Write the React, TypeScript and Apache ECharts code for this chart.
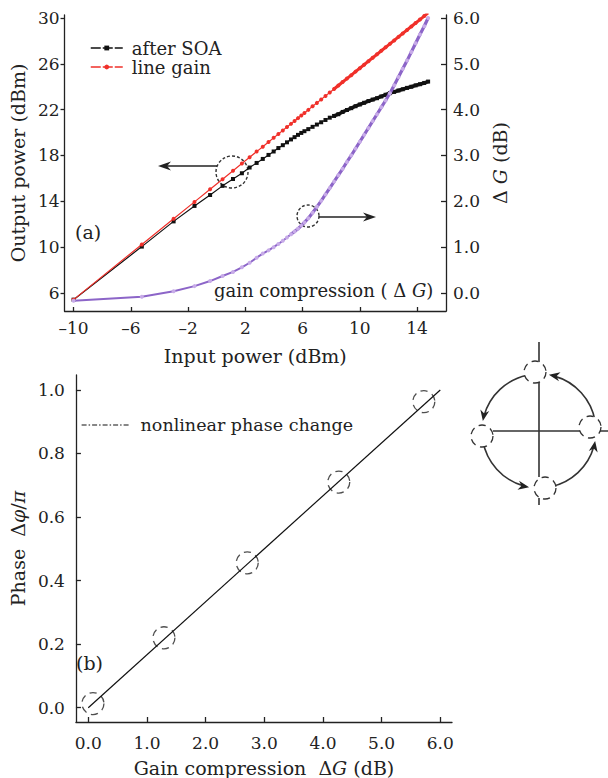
import React, { useEffect, useRef } from "react";
import * as echarts from "echarts";

const FONT = "'DejaVu Serif', 'Liberation Serif', serif";
const INK = "#222";

// ---- Panel (a) data ----
const inputPower = [
  -10, -5.23, -3.01, -1.55, -0.46, 0.41, 1.14, 1.76, 2.3, 2.79,
  3.22, 3.62, 3.98, 4.31, 4.62, 4.91, 5.19, 5.44, 5.68, 5.91,
  6.13,
  6.4, 6.7, 7.0, 7.3, 7.6, 7.9, 8.2, 8.5, 8.8, 9.1,
  9.4, 9.7, 10.0, 10.3, 10.6, 10.9, 11.2, 11.5, 11.8, 12.1,
  12.4, 12.7, 13.0, 13.3, 13.6, 13.9, 14.2, 14.5,
  14.77,
];
const afterSOA = [
  5.42, 10.05, 12.25, 13.6, 14.55, 15.35, 15.95, 16.45, 16.95, 17.35,
  17.7, 18.05, 18.35, 18.65, 18.9, 19.15, 19.4, 19.6, 19.8, 19.97,
  20.12,
  20.3, 20.5, 20.7, 20.9, 21.1, 21.3, 21.45, 21.6, 21.8, 21.97,
  22.13, 22.3, 22.45, 22.6, 22.75, 22.88, 23.0, 23.15, 23.3, 23.44,
  23.55, 23.67, 23.78, 23.9, 24.0, 24.12, 24.22, 24.33,
  24.45,
];
const lineGain = [
  5.42, 10.24, 12.48, 13.95, 15.05, 15.93, 16.67, 17.3, 17.84, 18.34,
  18.77, 19.18, 19.54, 19.87, 20.19, 20.48, 20.76, 21.01, 21.26, 21.49,
  21.71,
  21.98, 22.29, 22.59, 22.89, 23.2, 23.5, 23.8, 24.11, 24.41, 24.71,
  25.01, 25.32, 25.62, 25.92, 26.23, 26.53, 26.83, 27.14, 27.44, 27.74,
  28.04, 28.35, 28.65, 28.95, 29.26, 29.56, 29.86, 30.17,
  30.44,
];
const gainCompression = [
  -0.17, -0.08, 0.04, 0.15, 0.26, 0.37, 0.46, 0.56, 0.66, 0.77,
  0.86, 0.93, 1.0, 1.07, 1.14, 1.21, 1.28, 1.34, 1.4, 1.47,
  1.54,
  1.63, 1.75, 1.88, 2.01, 2.15, 2.29, 2.43, 2.57, 2.71, 2.86,
  3.0, 3.15, 3.3, 3.45, 3.6, 3.75, 3.9, 4.05, 4.2, 4.36,
  4.53, 4.71, 4.89, 5.07, 5.26, 5.45, 5.64, 5.82,
  6.0,
];
const topXTicks = [-10, -6, -2, 2, 6, 10, 14];
const leftYTicks = [6, 10, 14, 18, 22, 26, 30];
const rightYTicks = [0, 1, 2, 3, 4, 5, 6];

// ---- Panel (b) data ----
const phaseLineX = [0, 6.0];
const phaseLineY = [0, 1.0];
const phasePointX = [0.08, 1.29, 2.71, 4.27, 5.72];
const phasePointY = [0.013, 0.22, 0.456, 0.71, 0.963];
const bottomXTicks = [0, 1, 2, 3, 4, 5, 6];
const bottomYTicks = [0, 0.2, 0.4, 0.6, 0.8, 1.0];

const zip = (xs: number[], ys: number[]) => xs.map((x, i) => [x, ys[i]]);
const DENSE_FROM = 27; // where the measured points become densely packed
const PURPLE_DENSE_FROM = 16;

function head(tx: number, ty: number, dx: number, dy: number, len = 11, w = 4.5) {
  const L = Math.hypot(dx, dy);
  const ux = dx / L, uy = dy / L;
  const px = -uy, py = ux;
  const bx = tx - ux * len, by = ty - uy * len;
  return {
    type: "polygon",
    shape: {
      points: [
        [tx, ty],
        [bx + px * w, by + py * w],
        [tx - ux * len * 0.7, ty - uy * len * 0.7],
        [bx - px * w, by - py * w],
      ],
    },
    style: { fill: INK },
  };
}

function buildInset() {
  const cx = 539, cy = 431, R = 57;
  const els: any[] = [];
  els.push({ type: "line", shape: { x1: cx, y1: 342, x2: cx, y2: 477 }, style: { stroke: "#333", lineWidth: 1.6 } });
  els.push({ type: "line", shape: { x1: cx, y1: 498, x2: cx, y2: 505 }, style: { stroke: "#333", lineWidth: 1.6 } });
  els.push({ type: "line", shape: { x1: 493, y1: cy, x2: 608, y2: cy }, style: { stroke: "#333", lineWidth: 1.6 } });
  const arcs = [
    [190, 258],
    [100, 170],
    [10, 78],
    [280, 350],
  ];
  arcs.forEach(([s, e]) => {
    const sr = (s * Math.PI) / 180, er = (e * Math.PI) / 180;
    els.push({
      type: "arc",
      shape: { cx, cy, r: R, startAngle: sr + 0.1, endAngle: er, clockwise: true },
      style: { stroke: "#333", lineWidth: 1.6, fill: "none" },
    });
    const tx = cx + R * Math.cos(sr), ty = cy + R * Math.sin(sr);
    els.push(head(tx, ty, Math.sin(sr), -Math.cos(sr), 11, 4.5));
  });
  const smalls = [
    [535, 372],
    [482, 436],
    [545, 488],
    [590, 427],
  ];
  smalls.forEach(([x, y]) => {
    els.push({
      type: "circle",
      shape: { cx: x, cy: y, r: 11 },
      style: { fill: "#fff", stroke: "#333", lineWidth: 1.3, lineDash: [7, 5] },
    });
  });
  return els;
}

const labelStyle = { color: INK, fontFamily: FONT, fontSize: 17 };
const nameStyle = { color: INK, fontFamily: FONT, fontSize: 19 };
const axisLine = { show: true, onZero: false, lineStyle: { color: INK, width: 1.3 } };
const tickStyle = { color: INK, width: 1.3 };
const dashMinus = (v: number) => String(v).replace("-", "–");

export default function App() {
  const ref = useRef<HTMLDivElement>(null);
  useEffect(() => {
    const chart = echarts.init(ref.current!, null, { renderer: "svg" });
    const option: any = {
      animation: false,
      backgroundColor: "#fff",
      grid: [
        { left: 63, top: 15, width: 383, height: 296 },
        { left: 64, top: 375, width: 388, height: 349 },
      ],
      xAxis: [
        {
          gridIndex: 0,
          type: "value",
          min: -10.63,
          max: 16.02,
          axisLine,
          axisTick: { show: true, inside: true, length: 4, lineStyle: tickStyle, customValues: topXTicks },
          axisLabel: { ...labelStyle, margin: 8, customValues: topXTicks, formatter: dashMinus },
          splitLine: { show: false },
          name: "Input power (dBm)",
          nameLocation: "middle",
          nameGap: 35,
          nameTextStyle: nameStyle,
        },
        {
          gridIndex: 1,
          type: "value",
          min: -0.21,
          max: 6.2,
          axisLine,
          axisTick: { show: true, inside: true, length: 5, lineStyle: tickStyle, customValues: bottomXTicks },
          axisLabel: { ...labelStyle, margin: 12, customValues: bottomXTicks, formatter: (v: number) => v.toFixed(1) },
          splitLine: { show: false },
          name: "{n|Gain compression  }{d|Δ}{i|G}{n| (dB)}",
          nameLocation: "middle",
          nameGap: 36,
          nameTextStyle: {
            ...nameStyle,
            rich: {
              n: { ...nameStyle },
              d: { ...nameStyle },
              i: { ...nameStyle, fontStyle: "italic" },
            },
          },
        },
      ],
      yAxis: [
        {
          gridIndex: 0,
          type: "value",
          position: "left",
          min: 4.43,
          max: 30.26,
          axisLine,
          axisTick: { show: true, inside: false, length: 4, lineStyle: tickStyle, customValues: leftYTicks },
          axisLabel: { ...labelStyle, margin: 5, customValues: leftYTicks },
          splitLine: { show: false },
          name: "Output power (dBm)",
          nameLocation: "middle",
          nameRotate: 90,
          nameGap: 32,
          nameTextStyle: nameStyle,
        },
        {
          gridIndex: 0,
          type: "value",
          position: "right",
          min: -0.393,
          max: 6.065,
          axisLine,
          axisTick: { show: true, inside: true, length: 5, lineStyle: tickStyle, customValues: rightYTicks },
          axisLabel: { ...labelStyle, margin: 7, customValues: rightYTicks, formatter: (v: number) => v.toFixed(1) },
          splitLine: { show: false },
          name: "{d|Δ }{i|G}{n| (dB)}",
          nameLocation: "middle",
          nameRotate: 90,
          nameGap: 44,
          nameTextStyle: {
            ...nameStyle,
            rich: {
              n: { ...nameStyle },
              d: { ...nameStyle },
              i: { ...nameStyle, fontStyle: "italic" },
            },
          },
        },
        {
          gridIndex: 1,
          type: "value",
          min: -0.045,
          max: 1.047,
          axisLine,
          axisTick: { show: true, inside: true, length: 5, lineStyle: tickStyle, customValues: bottomYTicks },
          axisLabel: { ...labelStyle, margin: 11, customValues: bottomYTicks, formatter: (v: number) => v.toFixed(1) },
          splitLine: { show: false },
          name: "{n|Phase  }{n|Δ}{i|φ}{n|/}{i|π}",
          nameLocation: "middle",
          nameRotate: 90,
          nameGap: 42,
          nameTextStyle: {
            ...nameStyle,
            rich: {
              n: { ...nameStyle },
              i: { ...nameStyle, fontStyle: "italic" },
            },
          },
        },
      ],
      legend: [
        {
          data: [{ name: "after SOA" }, { name: "line gain" }],
          orient: "vertical",
          left: 85,
          top: 34,
          itemWidth: 32,
          itemHeight: 6,
          itemGap: 1,
          textStyle: { color: INK, fontFamily: FONT, fontSize: 18, padding: [0, 0, 0, 4] },
          lineStyle: { type: [10, 2], width: 1.5 },
          selectedMode: false,
        },
        {
          data: [{ name: "nonlinear phase change", itemStyle: { opacity: 0 } }],
          orient: "vertical",
          left: 76,
          top: 411,
          itemWidth: 48,
          itemHeight: 12,
          textStyle: { color: INK, fontFamily: FONT, fontSize: 17.5, padding: [0, 0, 0, 6] },
          lineStyle: { type: [5, 2, 1.5, 2], width: 1.2 },
          selectedMode: false,
        },
      ],
      series: [
        {
          name: "after SOA",
          type: "line",
          xAxisIndex: 0,
          yAxisIndex: 0,
          data: zip(inputPower, afterSOA),
          symbol: "rect",
          symbolSize: 4,
          showAllSymbol: true,
          itemStyle: { color: "#111" },
          lineStyle: { color: "#111", width: 1.2 },
          silent: true,
          z: 2,
        },
        {
          name: "after SOA dense",
          type: "line",
          xAxisIndex: 0,
          yAxisIndex: 0,
          data: zip(inputPower, afterSOA).slice(DENSE_FROM),
          symbol: "none",
          lineStyle: { color: "#111", width: 3.5 },
          silent: true,
          z: 2,
        },
        {
          name: "line gain",
          type: "line",
          xAxisIndex: 0,
          yAxisIndex: 0,
          data: zip(inputPower, lineGain),
          symbol: "circle",
          symbolSize: 4,
          showAllSymbol: true,
          itemStyle: { color: "#f0302a" },
          lineStyle: { color: "#f0302a", width: 1.2 },
          silent: true,
          z: 3,
        },
        {
          name: "line gain dense",
          type: "line",
          xAxisIndex: 0,
          yAxisIndex: 0,
          data: zip(inputPower, lineGain).slice(DENSE_FROM),
          symbol: "none",
          lineStyle: { color: "#f0302a", width: 3 },
          silent: true,
          z: 3,
        },
        {
          name: "gain compression dense",
          type: "line",
          xAxisIndex: 0,
          yAxisIndex: 1,
          data: zip(inputPower, gainCompression).slice(PURPLE_DENSE_FROM),
          symbol: "none",
          lineStyle: { color: "#8c65c8", width: 3.2 },
          silent: true,
          z: 4,
        },
        {
          name: "gain compression",
          type: "line",
          xAxisIndex: 0,
          yAxisIndex: 1,
          data: zip(inputPower, gainCompression),
          symbol: "circle",
          symbolSize: 4,
          showAllSymbol: true,
          itemStyle: { color: "#c7abe8" },
          lineStyle: { color: "#8c65c8", width: 2 },
          silent: true,
          z: 4,
        },
        {
          name: "nonlinear phase change",
          type: "line",
          xAxisIndex: 1,
          yAxisIndex: 2,
          data: zip(phaseLineX, phaseLineY),
          showSymbol: false,
          symbol: "none",
          itemStyle: { color: "#111" },
          lineStyle: { color: "#111", width: 1.2 },
          silent: true,
        },
        {
          name: "phase points",
          type: "scatter",
          xAxisIndex: 1,
          yAxisIndex: 2,
          data: zip(phasePointX, phasePointY),
          symbol: "circle",
          symbolSize: 22,
          itemStyle: { color: "rgba(0,0,0,0)", borderColor: "#222", borderWidth: 1.3, borderType: [7, 5] },
          silent: true,
        },
      ],
      graphic: [
        { type: "text", x: 75, y: 232, style: { text: "(a)", font: `19px ${FONT}`, fill: INK, verticalAlign: "middle" } },
        { type: "text", x: 76, y: 663, style: { text: "(b)", font: `19px ${FONT}`, fill: INK, verticalAlign: "middle" } },
        {
          type: "text",
          x: 214,
          y: 290,
          style: {
            text: "{n|gain compression (}{d| Δ }{i|G}{n|)}",
            fill: INK,
            verticalAlign: "middle",
            rich: {
              n: { fontFamily: FONT, fontSize: 18, color: INK },
              d: { fontFamily: FONT, fontSize: 18, color: INK },
              i: { fontFamily: FONT, fontSize: 18, color: INK, fontStyle: "italic" },
            },
          },
        },
        { type: "circle", shape: { cx: 232, cy: 172, r: 16 }, style: { fill: "none", stroke: "#333", lineWidth: 1.4, lineDash: [3, 2] } },
        { type: "line", shape: { x1: 217, y1: 166, x2: 166, y2: 166 }, style: { stroke: INK, lineWidth: 1.3 } },
        head(158, 166, -1, 0, 13, 4.5),
        { type: "circle", shape: { cx: 308, cy: 216, r: 11 }, style: { fill: "none", stroke: "#333", lineWidth: 1.4, lineDash: [3, 2] } },
        { type: "line", shape: { x1: 319, y1: 217, x2: 368, y2: 217 }, style: { stroke: INK, lineWidth: 1.3 } },
        head(376, 217, 1, 0, 13, 4.5),
        ...buildInset(),
      ],
    };
    chart.setOption(option);
    return () => chart.dispose();
  }, []);
  return (
    <div
      ref={ref}
      style={{ position: "absolute", left: 0, top: 0, width: 608, height: 778, background: "#fff" }}
    />
  );
}
